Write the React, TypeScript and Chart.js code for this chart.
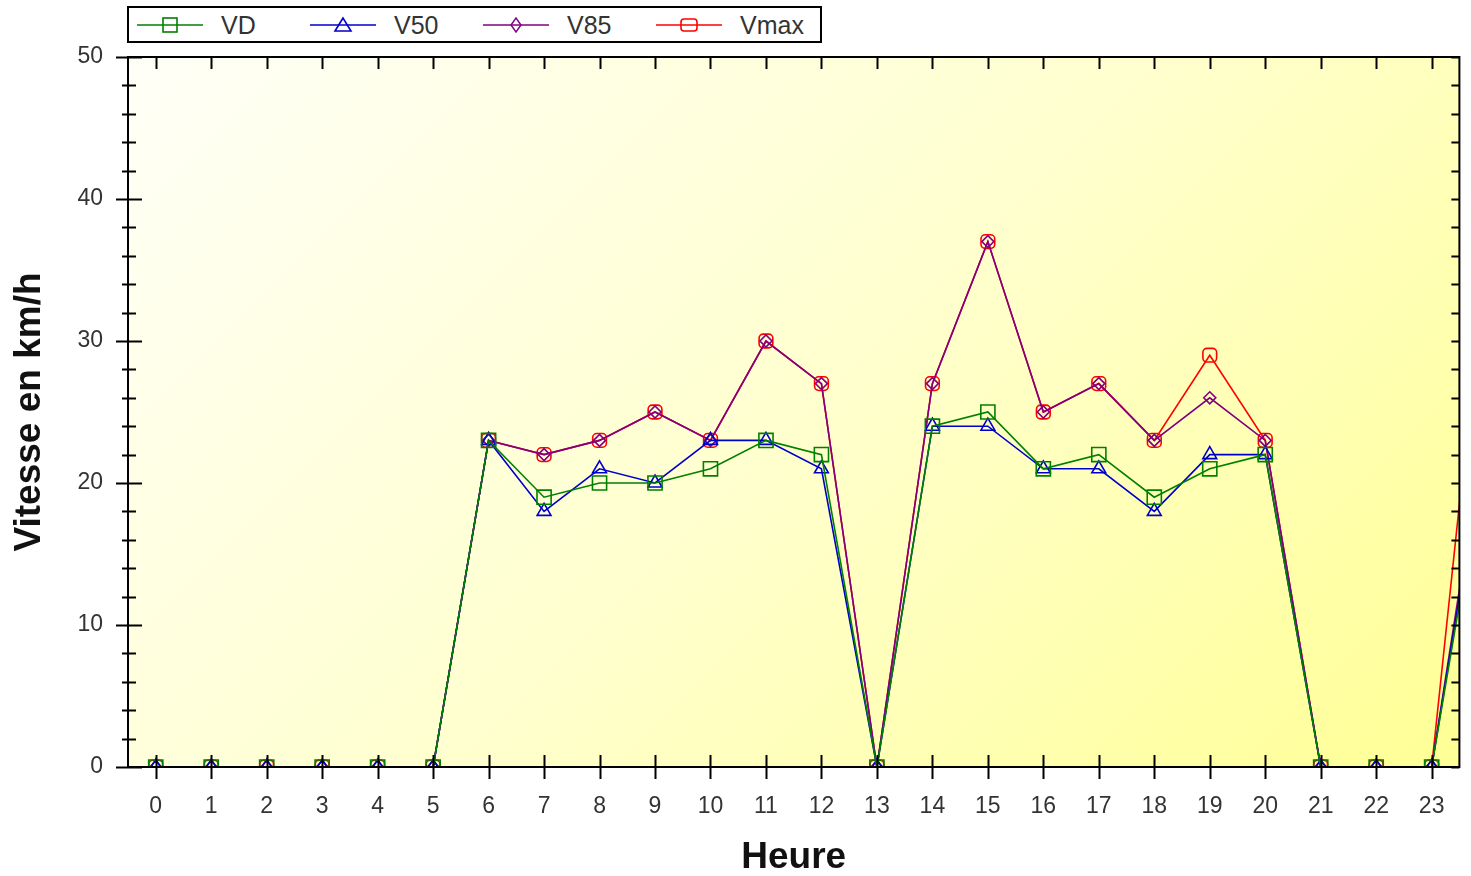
import React, { useEffect, useRef } from 'react';
import { Chart, registerables } from 'chart.js';

Chart.register(...registerables);

// heures (24 = point du lendemain, coupé au bord droit)
const HEURES = [0, 1, 2, 3, 4, 5, 6, 7, 8, 9, 10, 11, 12, 13, 14, 15, 16, 17, 18, 19, 20, 21, 22, 23, 24];
const TICKS_HEURE = [0, 1, 2, 3, 4, 5, 6, 7, 8, 9, 10, 11, 12, 13, 14, 15, 16, 17, 18, 19, 20, 21, 22, 23];

const VD = [0, 0, 0, 0, 0, 0, 23, 19, 20, 20, 21, 23, 22, 0, 24, 25, 21, 22, 19, 21, 22, 0, 0, 0, 23];
const V50 = [0, 0, 0, 0, 0, 0, 23, 18, 21, 20, 23, 23, 21, 0, 24, 24, 21, 21, 18, 22, 22, 0, 0, 0, 24];
const V85 = [0, 0, 0, 0, 0, 0, 23, 22, 23, 25, 23, 30, 27, 0, 27, 37, 25, 27, 23, 26, 23, 0, 0, 0, 25];
const VMAX = [0, 0, 0, 0, 0, 0, 23, 22, 23, 25, 23, 30, 27, 0, 27, 37, 25, 27, 23, 29, 23, 0, 0, 0, 37];

const Y_MIN = 0;
const Y_MAX = 50;
const Y_STEP = 10;
const Y_MINOR = 2;

const FONT = '"Liberation Sans", Arial, sans-serif';

const SERIES = [
  { label: 'VD', data: VD, color: '#008000', style: 'rect', radius: 10 },
  { label: 'V50', data: V50, color: '#0000cc', style: 'triangle', radius: 8 },
  { label: 'V85', data: V85, color: '#800080', style: 'rectRot', radius: 6 },
  { label: 'Vmax', data: VMAX, color: '#ff0000', style: 'rectRounded', radius: 8 },
];

const fondPlugin = {
  id: 'fond',
  beforeDraw(chart: any) {
    const { ctx, chartArea } = chart;
    if (!chartArea) return;
    const { left, top, right, bottom } = chartArea;
    const d = (right - left + bottom - top) / 2;
    const g = ctx.createLinearGradient(left, top, left + d, top + d);
    g.addColorStop(0, '#fffff8');
    g.addColorStop(0.5, '#ffffcf');
    g.addColorStop(1, '#ffff96');
    ctx.save();
    ctx.fillStyle = g;
    ctx.fillRect(left, top, right - left, bottom - top);
    ctx.restore();
  },
};

const cadrePlugin = {
  id: 'cadre',
  afterDraw(chart: any) {
    const { ctx, chartArea, scales } = chart;
    const { left, top, right, bottom } = chartArea;
    ctx.save();
    ctx.strokeStyle = '#000';
    ctx.lineWidth = 2;
    ctx.strokeRect(left, top, right - left, bottom - top);
    ctx.beginPath();
    TICKS_HEURE.forEach((h) => {
      const px = Math.round(scales.x.getPixelForValue(h)) + 0.5;
      ctx.moveTo(px, bottom - 12);
      ctx.lineTo(px, bottom + 12);
      ctx.moveTo(px, top);
      ctx.lineTo(px, top + 12);
    });
    for (let v = Y_MIN; v <= Y_MAX; v += Y_MINOR) {
      const py = Math.round(scales.y.getPixelForValue(v)) + 0.5;
      if (v % Y_STEP === 0) {
        ctx.moveTo(left - 12, py);
        ctx.lineTo(left + 14, py);
      } else {
        ctx.moveTo(left - 6, py);
        ctx.lineTo(left + 8, py);
      }
      ctx.moveTo(right - 8, py);
      ctx.lineTo(right, py);
    }
    ctx.stroke();
    ctx.restore();
  },
};

const Marqueur: React.FC<{ style: string; color: string }> = ({ style, color }) => {
  const c = 33;
  const m = 10;
  let shape: React.ReactNode = null;
  if (style === 'rect') {
    shape = <rect x={c - 7} y={m - 7} width={14} height={14} fill="none" stroke={color} strokeWidth={1.6} />;
  } else if (style === 'triangle') {
    shape = <polygon points={`${c},${m - 7} ${c - 8},${m + 6} ${c + 8},${m + 6}`} fill="none" stroke={color} strokeWidth={1.6} />;
  } else if (style === 'rectRot') {
    shape = <polygon points={`${c},${m - 7} ${c + 5},${m} ${c},${m + 7} ${c - 5},${m}`} fill="none" stroke={color} strokeWidth={1.4} />;
  } else {
    shape = <rect x={c - 8} y={m - 6} width={16} height={12} rx={3} fill="none" stroke={color} strokeWidth={1.6} />;
  }
  return (
    <svg width={66} height={20} style={{ position: 'absolute', left: 0, top: 7 }}>
      <line x1={0} y1={m} x2={66} y2={m} stroke={color} strokeWidth={1.6} />
      {shape}
    </svg>
  );
};

const App: React.FC = () => {
  const chartRef = useRef<HTMLCanvasElement | null>(null);
  const chartInstance = useRef<Chart | null>(null);

  useEffect(() => {
    if (chartRef.current) {
      if (chartInstance.current) {
        chartInstance.current.destroy();
      }
      const ctx = chartRef.current.getContext('2d');
      if (ctx) {
        chartInstance.current = new Chart(ctx, {
          type: 'line',
          data: {
            datasets: SERIES.map((s) => ({
              label: s.label,
              data: HEURES.map((h, i) => ({ x: h, y: s.data[i] })),
              borderColor: s.color,
              borderWidth: 1.6,
              backgroundColor: 'transparent',
              pointStyle: s.style as any,
              pointRadius: s.radius,
              pointBorderColor: s.color,
              pointBackgroundColor: 'transparent',
              pointBorderWidth: 1.6,
              tension: 0,
              fill: false,
            })),
          },
          options: {
            animation: false,
            responsive: true,
            maintainAspectRatio: false,
            layout: { padding: { top: 57, right: 9, left: 0, bottom: 0 } },
            plugins: {
              legend: { display: false },
              tooltip: { enabled: false },
            },
            scales: {
              x: {
                type: 'linear',
                min: -0.5,
                max: 23.5,
                afterBuildTicks: (scale: any) => {
                  scale.ticks = TICKS_HEURE.map((h) => ({ value: h }));
                },
                afterFit: (scale: any) => {
                  scale.height = 109;
                },
                grid: { display: false, drawTicks: false },
                border: { display: false },
                ticks: {
                  padding: 26,
                  color: '#333',
                  font: { family: FONT, size: 23 },
                  maxRotation: 0,
                  autoSkip: false,
                  callback: (v: any) => String(v),
                },
                title: {
                  display: true,
                  text: 'Heure',
                  color: '#111',
                  font: { family: FONT, size: 37, weight: 'bold', lineHeight: 1 },
                  padding: { top: 0, bottom: 0 },
                },
              },
              y: {
                min: Y_MIN,
                max: Y_MAX,
                afterFit: (scale: any) => {
                  scale.width = 128;
                },
                grid: { display: false, drawTicks: false },
                border: { display: false },
                ticks: {
                  stepSize: Y_STEP,
                  padding: 25,
                  color: '#333',
                  font: { family: FONT, size: 23 },
                },
                title: {
                  display: true,
                  text: 'Vitesse en km/h',
                  color: '#111',
                  font: { family: FONT, size: 37, weight: 'bold', lineHeight: 1 },
                  padding: { top: 11, bottom: 0 },
                },
              },
            },
          },
          plugins: [fondPlugin, cadrePlugin],
        });
      }
    }

    return () => {
      if (chartInstance.current) {
        chartInstance.current.destroy();
        chartInstance.current = null;
      }
    };
  }, []);

  return (
    <div style={{ position: 'absolute', left: 0, top: 0, width: 1471, height: 876, background: '#fff' }}>
      <canvas ref={chartRef}></canvas>
      <div
        style={{
          position: 'absolute',
          left: 127,
          top: 6,
          width: 695,
          height: 37,
          border: '2px solid #000',
          boxSizing: 'border-box',
          background: '#fff',
          fontFamily: FONT,
        }}
      >
        {SERIES.map((s, i) => (
          <div key={s.label} style={{ position: 'absolute', left: 8 + i * 173, top: 0, height: 33, width: 170 }}>
            <Marqueur style={s.style} color={s.color} />
            <span
              style={{
                position: 'absolute',
                left: 84,
                top: 3,
                fontSize: 25,
                lineHeight: '28px',
                color: '#333',
              }}
            >
              {s.label}
            </span>
          </div>
        ))}
      </div>
    </div>
  );
};

export default App;
